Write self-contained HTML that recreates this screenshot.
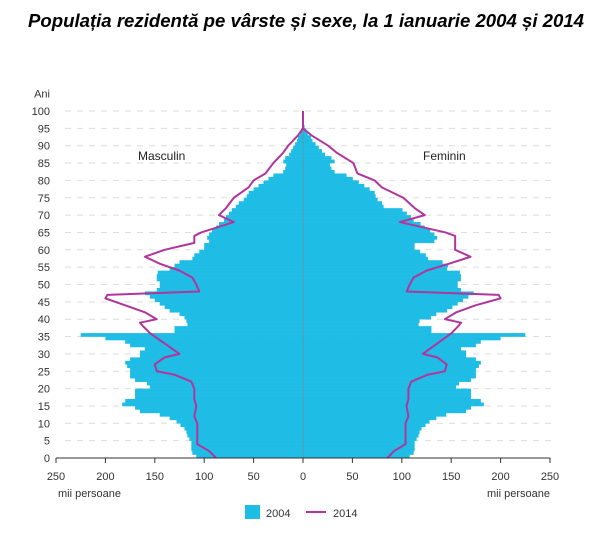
<!DOCTYPE html>
<html><head><meta charset="utf-8"><style>
body{margin:0;background:#fff;width:600px;height:534px;overflow:hidden}
</style></head><body>
<svg id="s" width="600" height="534" xmlns="http://www.w3.org/2000/svg" font-family="Liberation Sans, sans-serif">
<text x="306" y="27" text-anchor="middle" font-size="18.6" font-weight="bold" font-style="italic" fill="#000">Populația rezidentă pe vârste și sexe, la 1 ianuarie 2004 și 2014</text>
<g id="g"></g>
</svg>
<script>
var m04={0:108,1:112,2:113,3:113,4:113,5:115,6:117,7:118,8:120,9:124,10:128,11:135,12:145,13:165,14:170,15:183,16:180,17:170,18:170,19:170,20:155,21:158,22:170,23:175,24:175,25:175,26:178,27:180,28:175,29:165,30:165,31:160,32:175,33:180,34:200,35:225,36:130,37:130,38:117,39:118,40:120,41:125,42:135,43:140,44:145,45:150,46:155,47:160,48:148,49:145,50:145,51:148,52:148,53:147,54:135,55:130,56:125,57:112,58:110,59:105,60:100,61:100,62:95,63:97,64:95,65:92,66:88,67:85,68:80,69:78,70:75,71:72,72:68,73:65,74:60,75:57,76:55,77:50,78:45,79:40,80:35,81:30,82:20,83:18,84:17,85:20,86:18,87:14,88:12,89:10,90:8,91:6,92:5,93:3,94:2,95:1};
var m14=[[0,88],[2,95],[4,107],[6,107],[8,107],[10,107],[12,110],[15,108],[17,110],[20,110],[22,113],[24,130],[25,148],[27,150],[29,140],[30,125],[32,135],[34,145],[36,155],[38,162],[39,165],[40,148],[42,160],[44,180],[46,200],[47,198],[48,105],[50,108],[52,112],[54,125],[56,145],[58,160],[60,140],[62,110],[64,110],[65,103],[68,70],[70,85],[72,78],[75,70],[78,55],[80,50],[82,38],[85,30],[88,20],[90,15],[93,5],[95,0]];
function f04(a){if(a<40)return 1.0;if(a<55)return 1.08;if(a<62)return 1.13;if(a<72)return 1.4;if(a<82)return 1.2+ (a-72)*0.03;return 1.6;}
function f14(a){if(a<45)return 0.97;if(a<55)return 1.0;if(a<62)return 1.0+(a-55)*0.02;if(a<70)return 1.4;if(a<85)return 1.45;return 1.7;}
var X0=303,K=0.988,Y0=458,H=3.47,g=document.getElementById('g'),s='';
for(var a=0;a<=100;a+=5){var y=Y0-a*H;s+='<line x1="65" x2="555" y1="'+y+'" y2="'+y+'" stroke="#ddd" stroke-dasharray="6,6"/>';
s+='<text x="50" y="'+(y+4)+'" text-anchor="end" font-size="11" fill="#333">'+a+'</text>';}
s+='<text x="50" y="'+(Y0-105*H+4)+'" text-anchor="end" font-size="11" fill="#333">Ani</text>';
for(var a=0;a<=95;a++){var v=m04[a],y=Y0-(a+1)*H;var w=v*K,wf=v*f04(a)*K;
s+='<rect x="'+(X0-w)+'" y="'+y+'" width="'+w+'" height="'+(H+0.3)+'" fill="#1fbde6"/>';
s+='<rect x="'+X0+'" y="'+y+'" width="'+wf+'" height="'+(H+0.3)+'" fill="#1fbde6"/>';}
s+='<line x1="'+X0+'" x2="'+X0+'" y1="'+(Y0-95*H)+'" y2="'+Y0+'" stroke="#6a8a99" stroke-width="0.7"/>';
var pl='',pr='';m14.forEach(function(p){var y=Y0-p[0]*H;pl+=(X0-p[1]*K)+','+y+' ';pr+=(X0+p[1]*f14(p[0])*K)+','+y+' ';});
s+='<polyline points="'+pl+'" fill="none" stroke="#b0359c" stroke-width="2" stroke-linejoin="round"/>';
s+='<polyline points="'+pr+'" fill="none" stroke="#b0359c" stroke-width="2" stroke-linejoin="round"/>';
s+='<line x1="'+X0+'" x2="'+X0+'" y1="'+(Y0-100*H)+'" y2="'+(Y0-95*H)+'" stroke="#b0359c" stroke-width="2"/>';
s+='<line x1="56" x2="550" y1="'+Y0+'" y2="'+Y0+'" stroke="#333"/>';
var labs=[250,200,150,100,50,0,50,100,150,200,250];
for(var i=0;i<11;i++){var x=56+i*49.4;s+='<line x1="'+x+'" x2="'+x+'" y1="'+Y0+'" y2="'+(Y0+5)+'" stroke="#333"/><text x="'+x+'" y="'+(Y0+22)+'" text-anchor="middle" font-size="11" fill="#333">'+labs[i]+'</text>';}
s+='<text x="58" y="497" font-size="11" fill="#333">mii persoane</text><text x="487" y="497" font-size="11" fill="#333">mii persoane</text>';
s+='<text x="138" y="160" font-size="12" fill="#222">Masculin</text><text x="423" y="160" font-size="12" fill="#222">Feminin</text>';
s+='<rect x="245" y="505" width="15" height="14" fill="#1fbde6"/><text x="266" y="517" font-size="11" fill="#333">2004</text>';
s+='<line x1="306" x2="326" y1="512" y2="512" stroke="#b0359c" stroke-width="2"/><text x="333" y="517" font-size="11" fill="#333">2014</text>';
g.innerHTML=s;
</script>
</body></html>
